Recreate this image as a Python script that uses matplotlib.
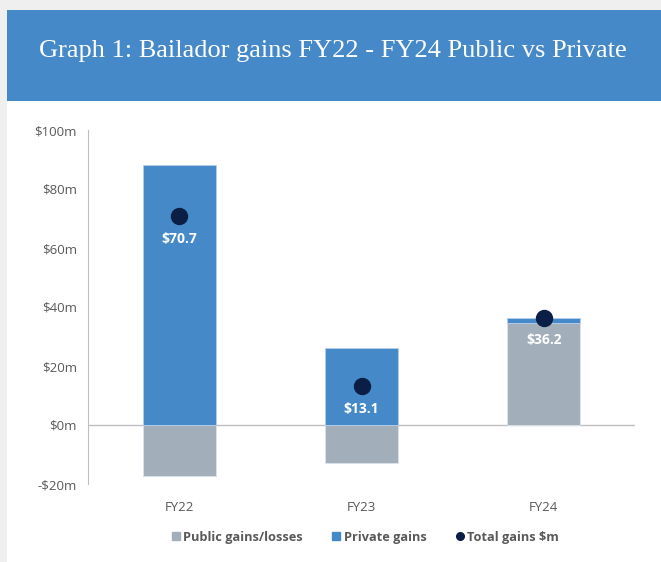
import matplotlib.pyplot as plt
from matplotlib.patches import Rectangle
from matplotlib.lines import Line2D

# data
years = ["FY22", "FY23", "FY24"]
public_gains = [-17.3, -12.9, 34.6]
private_gains = [88.0, 26.0, 1.6]
total_gains = [70.7, 13.1, 36.2]
y_ticks = [-20, 0, 20, 40, 60, 80, 100]

blue = "#4589C8"
grey = "#A2AEB9"
navy = "#0B1E45"
text_grey = "#595959"

fig = plt.figure(figsize=(6.61, 5.62), dpi=100)
fig.patch.set_facecolor("#efefef")

# white card + blue title banner
fig.add_artist(Rectangle((7 / 661, 0), 1, 1 - 10 / 562, transform=fig.transFigure,
                         facecolor="white", edgecolor="none", zorder=0))
fig.add_artist(Rectangle((7 / 661, 1 - 101 / 562), 1, 91 / 562, transform=fig.transFigure,
                         facecolor=blue, edgecolor="none", zorder=1))
fig.text(0.503, 1 - 51 / 562, "Graph 1: Bailador gains FY22 - FY24 Public vs Private",
         ha="center", va="center", color="white", fontsize=19,
         family="Liberation Serif", zorder=2)

ax = fig.add_axes([88 / 661, 1 - 484 / 562, 547 / 661, 354 / 562])
ax.set_facecolor("none")
x = range(len(years))

# public bars start at zero; private bars stack on public when public is positive
ax.bar(x, public_gains, width=0.4, color=grey, edgecolor="#dde3ea", linewidth=0.6, zorder=2)
priv_bottom = [p if p > 0 else 0 for p in public_gains]
ax.bar(x, private_gains, width=0.4, bottom=priv_bottom, color=blue,
       edgecolor="#b5cfe8", linewidth=0.6, zorder=2)
ax.plot(x, total_gains, "o", color=navy, markersize=11.5, linestyle="none", zorder=4)
for i, t in enumerate(total_gains):
    ax.annotate(f"${t}", (i, t), xytext=(0, -16), textcoords="offset points",
                ha="center", va="center", color="white", fontsize=10,
                fontweight="bold", family="Open Sans", zorder=5)

ax.set_xlim(-0.5, 2.5)
ax.set_ylim(-20, 100)
ax.set_yticks(y_ticks)
ax.set_yticklabels([f"-${-v}m" if v < 0 else f"${v}m" for v in y_ticks])
ax.set_xticks(list(x))
ax.set_xticklabels(years)
ax.axhline(0, color="#bfbfbf", linewidth=1, zorder=1)
for s in ["top", "right", "bottom"]:
    ax.spines[s].set_visible(False)
ax.spines["left"].set_color("#bfbfbf")
ax.tick_params(axis="both", length=0, colors=text_grey, labelsize=9.5)
ax.tick_params(axis="y", pad=8)
ax.tick_params(axis="x", pad=12)
for lab in ax.get_xticklabels() + ax.get_yticklabels():
    lab.set_family("Open Sans")

handles = [
    Line2D([], [], marker="s", color=grey, linestyle="none", markersize=6),
    Line2D([], [], marker="s", color=blue, linestyle="none", markersize=6),
    Line2D([], [], marker="o", color=navy, linestyle="none", markersize=5.5),
]
labels = ["Public gains/losses", "Private gains", "Total gains $m"]
leg = fig.legend(handles, labels, loc="center", bbox_to_anchor=(0.55, 1 - 537 / 562),
                 ncol=3, frameon=False, handletextpad=0.0, handlelength=1.2,
                 columnspacing=2.0,
                 prop={"family": "Open Sans", "weight": "bold", "size": 9.2})
for t in leg.get_texts():
    t.set_color(text_grey)

fig.savefig("out.png", dpi=100)
